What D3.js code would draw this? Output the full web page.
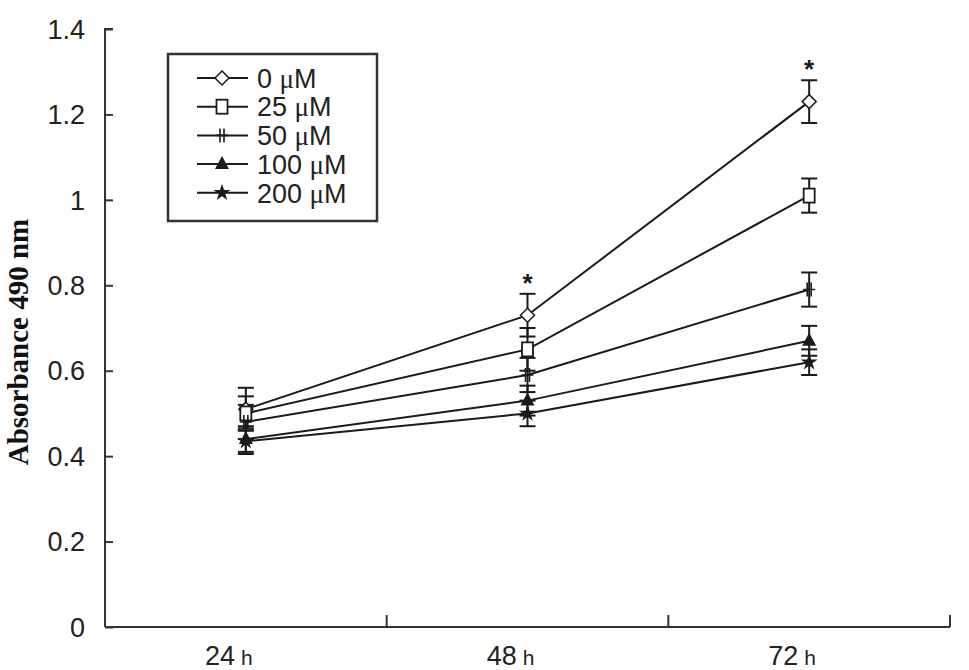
<!DOCTYPE html>
<html><head><meta charset="utf-8">
<script src="https://cdn.jsdelivr.net/npm/d3@7"></script>
<style>body{margin:0;background:#fff}</style>
</head><body>
<svg id="c" width="969" height="670"></svg>
<script>
const categories = ["24", "48", "72"];
const seriesNames = ["0 \u03bcM", "25 \u03bcM", "50 \u03bcM", "100 \u03bcM", "200 \u03bcM"];
const seriesMarkers = ["diamond", "square", "cross", "triangle", "star"];
const v0 = [0.51, 0.73, 1.23];
const v25 = [0.50, 0.65, 1.01];
const v50 = [0.48, 0.59, 0.79];
const v100 = [0.44, 0.53, 0.67];
const v200 = [0.435, 0.50, 0.62];
const e0 = [0.05, 0.05, 0.05];
const e25 = [0.04, 0.05, 0.04];
const e50 = [0.04, 0.04, 0.04];
const e100 = [0.03, 0.035, 0.035];
const e200 = [0.03, 0.03, 0.03];
const yTicks = [0, 0.2, 0.4, 0.6, 0.8, 1, 1.2, 1.4];
const sigMarks = [{cat: "48", value: 0.73, err: 0.05}, {cat: "72", value: 1.23, err: 0.05}];

const values = [v0, v25, v50, v100, v200];
const errs = [e0, e25, e50, e100, e200];

const svg = d3.select("#c");
const x = d3.scaleBand().domain(categories).range([105, 950]);
const y = d3.scaleLinear().domain([0, 1.4]).range([627, 29]);
const cx = c => x(c) + x.bandwidth() / 2;
const ink = "#1a1a1a";
const sans = "Liberation Sans, Arial, sans-serif";

// axes
const yAxis = svg.append("g").attr("transform", "translate(105,0)")
  .call(d3.axisRight(y).tickValues(yTicks).tickSize(8).tickFormat(""));
yAxis.select(".domain").attr("d", `M8,${y(1.4)}H0V${y(0)}`);
yAxis.selectAll("path,line").attr("stroke", "#333").attr("stroke-width", 2);
svg.append("g").selectAll("text").data(yTicks).join("text")
  .attr("x", 85).attr("y", d => y(d)).attr("dy", "0.36em")
  .attr("text-anchor", "end").attr("font-family", sans)
  .attr("font-size", 27).attr("fill", "#222").text(d => d3.format("~g")(d));

const xAxis = svg.append("g").attr("transform", "translate(0,627)")
  .call(d3.axisTop(x).tickSize(0).tickFormat(""));
xAxis.select(".domain").attr("d", "M105,0H950").attr("stroke", "#333").attr("stroke-width", 2);
const bounds = categories.map(c => x(c) + x.bandwidth());
svg.append("g").selectAll("line").data(bounds).join("line")
  .attr("x1", d => d).attr("x2", d => d).attr("y1", 627).attr("y2", 615)
  .attr("stroke", "#333").attr("stroke-width", 2);
const xl = svg.append("g").selectAll("text").data(categories).join("text")
  .attr("x", d => cx(d) - 17).attr("y", 665).attr("text-anchor", "middle")
  .attr("font-family", sans).attr("fill", "#222");
xl.append("tspan").attr("font-size", 27).text(d => d);
xl.append("tspan").attr("font-size", 21).attr("dx", 6).text("h");

svg.append("text").attr("transform", "translate(28,342) rotate(-90)")
  .attr("text-anchor", "middle").attr("font-family", "Liberation Serif, Times New Roman, serif")
  .attr("font-weight", "bold").attr("font-size", 29).attr("fill", "#111")
  .text("Absorbance 490 nm");

// lines
const line = d3.line().x((d, i) => cx(categories[i])).y(d => y(d));
values.forEach(vs => {
  svg.append("path").attr("d", line(vs)).attr("fill", "none")
    .attr("stroke", ink).attr("stroke-width", 2);
});

// error bars
values.forEach((vs, si) => {
  const g = svg.append("g").attr("stroke", ink).attr("stroke-width", 2);
  vs.forEach((v, i) => {
    const px = cx(categories[i]), e = errs[si][i];
    g.append("line").attr("x1", px).attr("x2", px).attr("y1", y(v + e)).attr("y2", y(v - e));
    g.append("line").attr("x1", px - 8).attr("x2", px + 8).attr("y1", y(v + e)).attr("y2", y(v + e));
    g.append("line").attr("x1", px - 8).attr("x2", px + 8).attr("y1", y(v - e)).attr("y2", y(v - e));
  });
});

function marker(g, type, px, py) {
  if (type === "diamond") {
    g.append("path").attr("d", `M${px},${py-7}L${px+7},${py}L${px},${py+7}L${px-7},${py}Z`)
      .attr("fill", "#fff").attr("stroke", ink).attr("stroke-width", 1.5);
  } else if (type === "square") {
    g.append("rect").attr("x", px - 5.5).attr("y", py - 7).attr("width", 11).attr("height", 14)
      .attr("fill", "#fff").attr("stroke", ink).attr("stroke-width", 1.8);
  } else if (type === "cross") {
    g.append("path").attr("d", `M${px-2},${py-7}V${py+7}M${px+2},${py-7}V${py+7}M${px-6},${py}H${px+6}`)
      .attr("stroke", ink).attr("stroke-width", 1.6);
  } else if (type === "triangle") {
    g.append("path").attr("d", `M${px},${py-8}L${px+7},${py+5}L${px-7},${py+5}Z`).attr("fill", ink);
  } else if (type === "star") {
    g.append("path").attr("d", d3.symbol(d3.symbolStar, 90)()).attr("transform", `translate(${px},${py})`).attr("fill", ink);
  }
}
values.forEach((vs, si) => {
  const g = svg.append("g");
  vs.forEach((v, i) => marker(g, seriesMarkers[si], cx(categories[i]), y(v)));
});

// significance asterisks
svg.append("g").selectAll("text").data(sigMarks).join("text")
  .attr("x", d => cx(d.cat)).attr("y", d => y(d.value + d.err) - 2)
  .attr("text-anchor", "middle").attr("font-family", sans)
  .attr("font-weight", "bold").attr("font-size", 26).attr("fill", ink).text("*");

// legend
const lg = svg.append("g");
lg.append("rect").attr("x", 168).attr("y", 54).attr("width", 209).attr("height", 167)
  .attr("fill", "#fff").attr("stroke", "#333").attr("stroke-width", 2.5);
seriesNames.forEach((n, i) => {
  const ly = 78 + i * 28.7;
  lg.append("line").attr("x1", 197).attr("x2", 248).attr("y1", ly).attr("y2", ly)
    .attr("stroke", ink).attr("stroke-width", 2);
  marker(lg, seriesMarkers[i], 222, ly);
  const t = lg.append("text").attr("x", 257).attr("y", ly).attr("dy", "0.36em")
    .attr("font-family", sans).attr("font-size", 27).attr("fill", "#222");
  const parts = n.split("\u03bc");
  t.append("tspan").text(parts[0]);
  t.append("tspan").attr("font-family", "Liberation Serif, Times New Roman, serif").text("\u03bc");
  t.append("tspan").text(parts[1]);
});
</script>
</body></html>
